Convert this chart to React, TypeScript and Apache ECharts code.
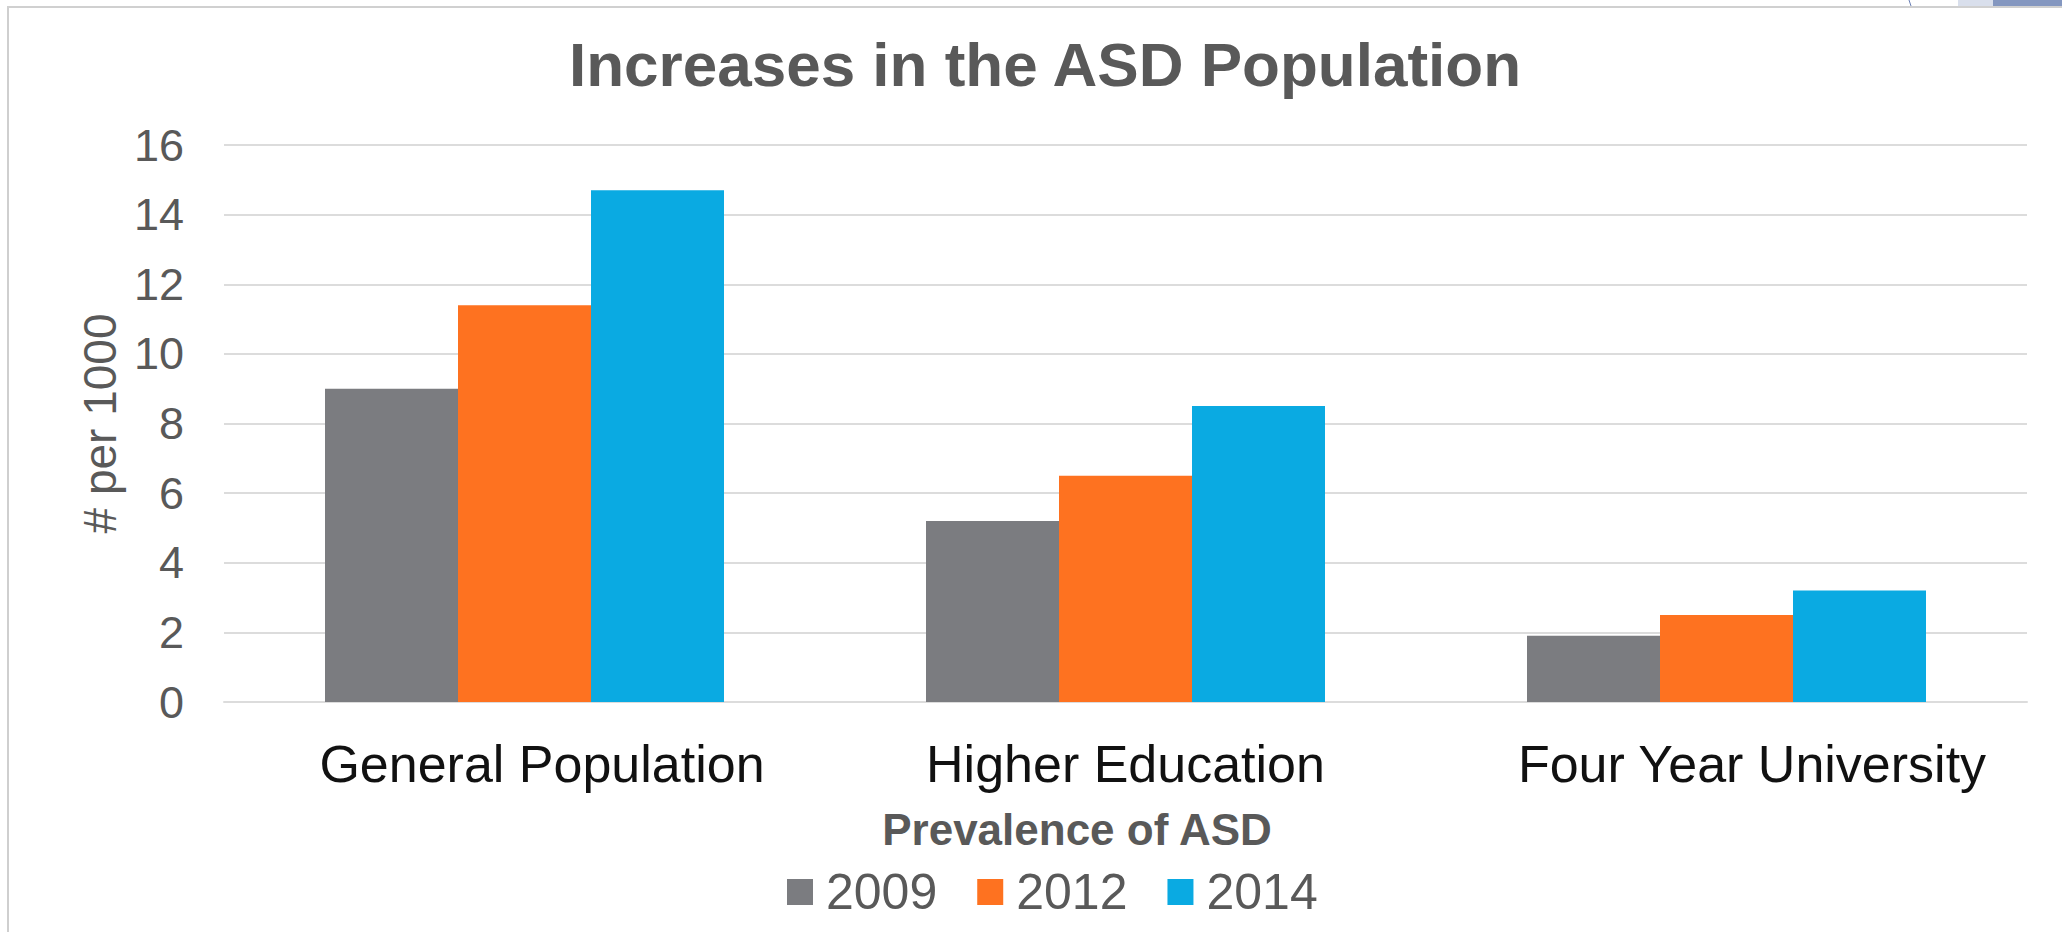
import React, { useEffect, useRef } from "react";
import * as echarts from "echarts";

const categories = ["General Population", "Higher Education", "Four Year University"];
const seriesNames = ["2009", "2012", "2014"];
const values2009 = [9.0, 5.2, 1.9];
const values2012 = [11.4, 6.5, 2.5];
const values2014 = [14.7, 8.5, 3.2];
const colors = ["#7b7c80", "#fe7220", "#0aaae2"];
const yTicks = { min: 0, max: 16, interval: 2 };

const FONT = "'Liberation Sans', Arial, Helvetica, sans-serif";

export default function App() {
  const ref = useRef<HTMLDivElement>(null);
  useEffect(() => {
    if (!ref.current) return;
    const chart = echarts.init(ref.current, undefined, { renderer: "svg" });
    const labelShift = [35, 0, 51];
    const rich: Record<string, any> = {};
    categories.forEach((_, i) => {
      rich["c" + i] = {
        fontSize: 52,
        fontFamily: FONT,
        color: "#111111",
        padding: [0, 0, 0, labelShift[i]],
      };
    });
    const dataSets = [values2009, values2012, values2014];
    chart.setOption({
      animation: false,
      backgroundColor: "#ffffff",
      textStyle: { fontFamily: FONT },
      grid: { left: 224, right: 35, top: 145, bottom: 230, containLabel: false },
      legend: {
        data: seriesNames,
        left: 782,
        top: 862,
        icon: "rect",
        itemWidth: 26,
        itemHeight: 26,
        itemGap: 40,
        textStyle: {
          fontSize: 50,
          color: "#595959",
          fontFamily: FONT,
          padding: [0, 0, 0, 8],
        },
      },
      xAxis: {
        type: "category",
        data: categories,
        axisLine: { show: true, lineStyle: { color: "#dcdcdc", width: 2 } },
        axisTick: { show: false },
        axisLabel: {
          margin: 36,
          interval: 0,
          formatter: (v: string, i: number) => `{c${i}|${v}}`,
          rich,
        },
      },
      yAxis: {
        type: "value",
        min: yTicks.min,
        max: yTicks.max,
        interval: yTicks.interval,
        name: "# per 1000",
        nameLocation: "middle",
        nameGap: 100,
        nameTextStyle: { fontSize: 46, color: "#595959", fontFamily: FONT },
        axisLine: { show: false },
        axisTick: { show: false },
        axisLabel: { fontSize: 45, color: "#595959", margin: 40, fontFamily: FONT },
        splitLine: { lineStyle: { color: "#dcdcdc", width: 2 } },
      },
      series: seriesNames.map((name, i) => ({
        name,
        type: "bar",
        data: dataSets[i],
        barWidth: 133,
        barGap: "0%",
        itemStyle: { color: colors[i] },
      })),
      graphic: [
        {
          type: "line",
          shape: { x1: 8, y1: 6, x2: 8, y2: 932 },
          style: { stroke: "#cfcfcf", lineWidth: 2 },
          silent: true,
        },
        {
          type: "line",
          shape: { x1: 7, y1: 7, x2: 2062, y2: 7 },
          style: { stroke: "#d0d0d0", lineWidth: 2 },
          silent: true,
        },
        {
          type: "rect",
          shape: { x: 1958, y: 0, width: 35, height: 6 },
          style: { fill: "#d9dfec" },
          silent: true,
        },
        {
          type: "rect",
          shape: { x: 1993, y: 0, width: 69, height: 6 },
          style: { fill: "#8497c0" },
          silent: true,
        },
        {
          type: "line",
          shape: { x1: 1909, y1: 0, x2: 1911, y2: 6 },
          style: { stroke: "#6a7fb5", lineWidth: 1 },
          silent: true,
        },
        {
          type: "text",
          x: 1045,
          y: 64,
          style: {
            text: "Increases in the ASD Population",
            fontSize: 62,
            fontWeight: "bold",
            fontFamily: FONT,
            fill: "#595959",
            align: "center",
            verticalAlign: "middle",
          },
        },
        {
          type: "text",
          x: 1077,
          y: 829,
          style: {
            text: "Prevalence of ASD",
            fontSize: 44,
            fontWeight: "bold",
            fontFamily: FONT,
            fill: "#595959",
            align: "center",
            verticalAlign: "middle",
          },
        },
      ],
    });
    return () => chart.dispose();
  }, []);
  return (
    <div
      ref={ref}
      style={{ position: "fixed", left: 0, top: 0, width: 2062, height: 932 }}
    />
  );
}
